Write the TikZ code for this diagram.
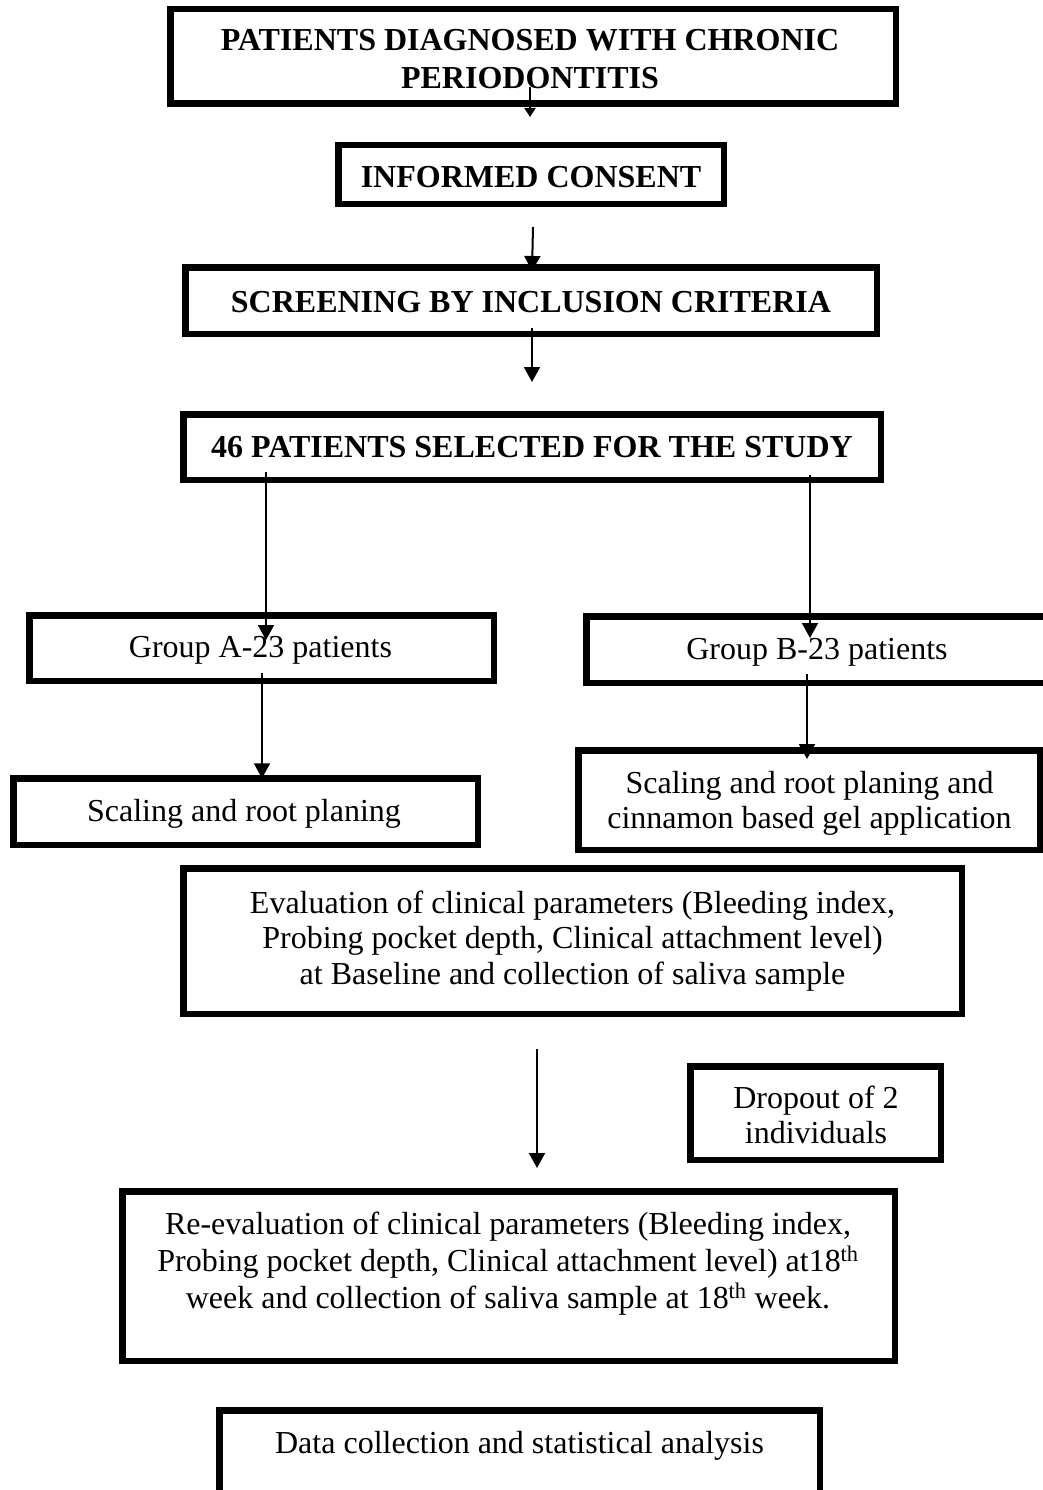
\documentclass[tikz,border=0pt]{standalone}
\usepackage{fontspec}
\setmainfont{Liberation Serif}
\usetikzlibrary{arrows.meta}
\begin{document}
\begin{tikzpicture}[x=1pt,y=-1pt,
  box/.style={draw, line width=6.5pt, rectangle, inner sep=0pt, outer sep=0pt},
  txt/.style={anchor=base, inner sep=0pt, outer sep=0pt, align=center, font=\fontsize{32}{#1}\selectfont},
  txt/.default=36,
  btxt/.style={anchor=base, inner sep=0pt, outer sep=0pt, align=center, font=\fontsize{32}{38}\selectfont\bfseries},
  arr/.style={line width=2pt, -{Triangle[length=15pt,width=16pt]}},
  sarr/.style={line width=2pt, -{Triangle[length=9pt,width=11pt]}},
]
\useasboundingbox (0,0) rectangle (1043,1490);
\fill[white] (0,0) rectangle (1043,1490);
\clip (0,0) rectangle (1043,1490);

% boxes
\node[box, minimum width=725.5pt, minimum height=94.5pt] (b1) at (533,56.5) {};
\node[box, minimum width=385.5pt, minimum height=58.5pt] (b2) at (531,174.5) {};
\node[box, minimum width=691.5pt, minimum height=66.5pt] (b3) at (531,300.5) {};
\node[box, minimum width=697.5pt, minimum height=65.5pt] (b4) at (532,447) {};
\node[box, minimum width=464.5pt, minimum height=65.5pt] (ga) at (261.5,648) {};
\node[box, minimum width=470.5pt, minimum height=66.5pt] (gb) at (821.5,649.5) {};
\node[box, minimum width=464.5pt, minimum height=66.5pt] (sa) at (245.5,811.5) {};
\node[box, minimum width=461.5pt, minimum height=99.5pt] (sb) at (809,800) {};
\node[box, minimum width=778.5pt, minimum height=145.5pt] (ev) at (572.5,941) {};
\node[box, minimum width=250.5pt, minimum height=93.5pt] (do) at (815.5,1113) {};
\node[box, minimum width=772.5pt, minimum height=169.5pt] (re) at (508.5,1276) {};
\node[box, minimum width=600.5pt, minimum height=96.5pt] (da) at (519.5,1458.5) {};

% texts (multi-line nodes: base = last line's baseline)
\node[btxt] (b1t) at (530,89) {PATIENTS DIAGNOSED WITH CHRONIC\\PERIODONTITIS};
\node[btxt] (b2t) at (531,188) {INFORMED CONSENT};
\node[btxt] (b3t) at (531,312) {SCREENING BY INCLUSION CRITERIA};
\node[btxt] (b4t) at (532,457) {46 PATIENTS SELECTED FOR THE STUDY};
\node[txt] (gat) at (260.5,657) {Group A-23 patients};
\node[txt] (gbt) at (817,659) {Group B-23 patients};
\node[txt] (sat) at (244,821) {Scaling and root planing};
\node[txt=35] (sbt) at (809.5,828) {Scaling and root planing and\\cinnamon based gel application};
\node[txt=35.5] (evt) at (572.5,984) {Evaluation of clinical parameters (Bleeding index,\\Probing pocket depth, Clinical attachment level)\\at Baseline and collection of saliva sample};
\node[txt=35] (dot) at (816,1143) {Dropout of 2\\individuals};
\node[txt=37] (ret) at (508,1308) {Re-evaluation of clinical parameters (Bleeding index,\\Probing pocket depth, Clinical attachment level) at18\textsuperscript{th}\\week and collection of saliva sample at 18\textsuperscript{th} week.};
\node[txt] (dat) at (519.5,1453) {Data collection and statistical analysis};

% connectors
\draw[sarr] ([xshift=-3pt,yshift=16.75pt]b1.south) -- ([xshift=-1pt,yshift=28.25pt]b2.north);
\draw[arr] ([xshift=2pt,yshift=-23.25pt]b2.south) -- ([xshift=1pt,yshift=-3.75pt]b3.north);
\draw[arr] ([xshift=1pt,yshift=5.75pt]b3.south) -- ([xshift=0pt,yshift=32.25pt]b4.north);
\draw[arr] ([xshift=-266pt,yshift=7.75pt]b4.south) -- ([xshift=4.5pt,yshift=-24.75pt]ga.north);
\draw[arr] ([xshift=278pt,yshift=4.75pt]b4.south) -- ([xshift=-11.5pt,yshift=-21.75pt]gb.north);
\draw[arr] ([xshift=0.5pt,yshift=7.75pt]ga.south) -- ([xshift=16.5pt,yshift=0pt]sa.north);
\draw[arr] ([xshift=-14.5pt,yshift=8.75pt]gb.south) -- ([xshift=-2pt,yshift=-8.75pt]sb.north);
\draw[arr] ([xshift=-35.5pt,yshift=-35.25pt]ev.south) -- ([xshift=28.5pt,yshift=23.25pt]re.north);
\end{tikzpicture}
\end{document}
